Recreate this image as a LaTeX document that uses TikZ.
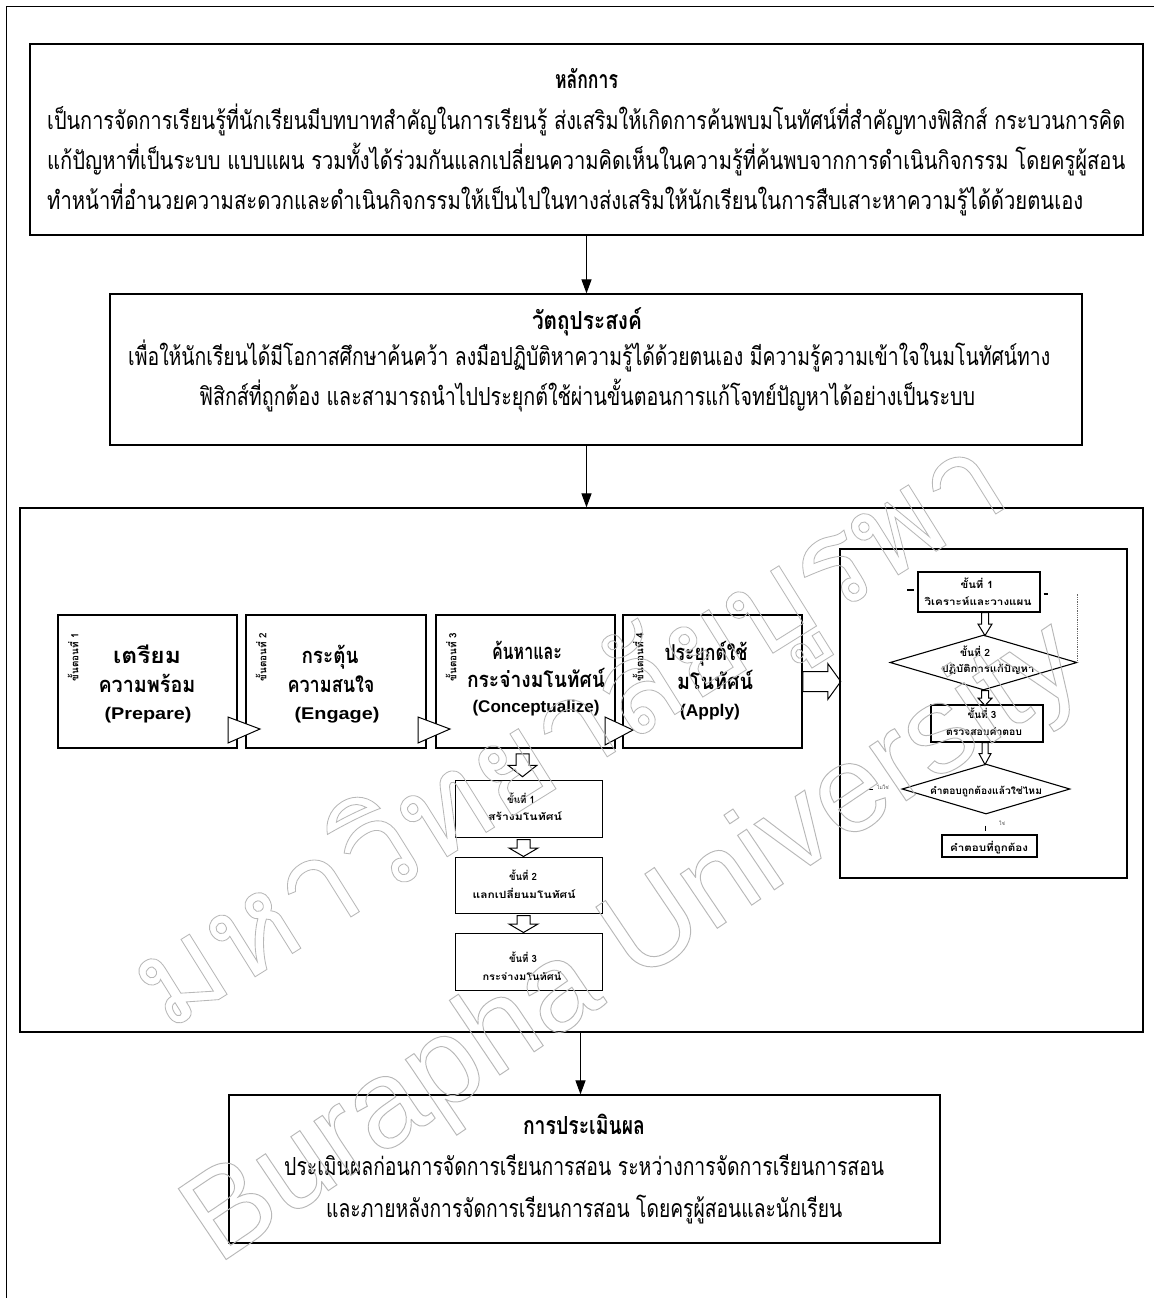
\documentclass[tikz,border=0pt]{standalone}
\usepackage{fontspec}
\setmainfont{Liberation Serif}
\newfontfamily\thai[Script=Thai]{Loma}
\newfontfamily\arialb{Liberation Sans}
\usetikzlibrary{arrows.meta,shapes.geometric,calc}
\newlength\fitlen
\newcommand\fitw[2]{\settowidth\fitlen{#2}\pgfmathsetmacro\fitr{#1/\fitlen}\scalebox{\fitr}[1]{#2}}
\begin{document}
\begin{tikzpicture}[x=1bp,y=-1bp,
  frame/.style={draw, line width=1.2bp, inner sep=0},
  stepbox/.style={draw, line width=1.5bp, inner sep=0, minimum width=179bp, minimum height=133bp},
  subbox/.style={draw, line width=1bp, inner sep=0, minimum width=147bp},
  fbox/.style={draw, line width=1.1bp, inner sep=0},
  body/.style={font=\thai\fontsize{25}{30}\selectfont, inner sep=0},
  ttl/.style={font=\thai\bfseries\fontsize{25}{30}\selectfont, inner sep=0},
  stth/.style={font=\thai\bfseries\fontsize{22}{24}\selectfont, inner sep=0},
  sten/.style={font=\arialb\bfseries\fontsize{17}{20}\selectfont, inner sep=0},
  vlab/.style={font=\thai\bfseries\fontsize{10}{12}\selectfont, inner sep=0, rotate=90},
  small/.style={font=\thai\bfseries\fontsize{10}{12}\selectfont, inner sep=0},
  tiny/.style={font=\thai\fontsize{5}{6}\selectfont, inner sep=0, text=black!70},
  conn/.style={line width=1.1bp, -{Triangle[length=14bp,width=10bp]}},
  blk/.style={draw, fill=white, line width=1bp, line join=miter},
  wmark/.style={text=black!28, inner sep=0},
  pics/dblk/.style args={#1/#2/#3}{code={\path[blk] (-#2,0) -- (-#2,#1*0.5) -- (-#3,#1*0.5) -- (0,#1) -- (#3,#1*0.5) -- (#2,#1*0.5) -- (#2,0) -- cycle;}}
]
\useasboundingbox (0,0) rectangle (1154,1298);
% page frame
\draw[line width=1bp] (1154,6) -- (6,6) -- (6,1298);

% box 1
\node[frame, minimum width=1113bp, minimum height=191bp] (b1) at (586.5,139.5) {};
\node[ttl, anchor=base] (b1t) at (586.5,88) {\fitw{63bp}{หลักการ}};
\node[body, anchor=base west] (b1a) at (47,129) {\fitw{1078bp}{เป็นการจัดการเรียนรู้ที่นักเรียนมีบทบาทสำคัญในการเรียนรู้ ส่งเสริมให้เกิดการค้นพบมโนทัศน์ที่สำคัญทางฟิสิกส์ กระบวนการคิด}};
\node[body, anchor=base west] (b1b) at (47,169) {\fitw{1078bp}{แก้ปัญหาที่เป็นระบบ แบบแผน รวมทั้งได้ร่วมกันแลกเปลี่ยนความคิดเห็นในความรู้ที่ค้นพบจากการดำเนินกิจกรรม โดยครูผู้สอน}};
\node[body, anchor=base west] (b1c) at (47,209) {\fitw{1036bp}{ทำหน้าที่อำนวยความสะดวกและดำเนินกิจกรรมให้เป็นไปในทางส่งเสริมให้นักเรียนในการสืบเสาะหาความรู้ได้ด้วยตนเอง}};

% box 2
\node[frame, minimum width=972bp, minimum height=151bp] (b2) at (596,369.5) {};
\node[ttl, anchor=base] (b2t) at (587,329) {\fitw{110bp}{วัตถุประสงค์}};
\node[body, anchor=base west] (b2a) at (128,365) {\fitw{922bp}{เพื่อให้นักเรียนได้มีโอกาสศึกษาค้นคว้า ลงมือปฏิบัติหาความรู้ได้ด้วยตนเอง มีความรู้ความเข้าใจในมโนทัศน์ทาง}};
\node[body, anchor=base west] (b2b) at (199,405) {\fitw{776bp}{ฟิสิกส์ที่ถูกต้อง และสามารถนำไปประยุกต์ใช้ผ่านขั้นตอนการแก้โจทย์ปัญหาได้อย่างเป็นระบบ}};

% box 3
\node[frame, minimum width=1123bp, minimum height=524bp] (b3) at (581.5,770) {};

% box 4
\node[frame, minimum width=711bp, minimum height=148bp] (b4) at (584.5,1169) {};
\node[ttl, anchor=base] (b4t) at (584,1134) {\fitw{122bp}{การประเมินผล}};
\node[body, anchor=base west] (b4a) at (284,1175) {\fitw{600bp}{ประเมินผลก่อนการจัดการเรียนการสอน ระหว่างการจัดการเรียนการสอน}};
\node[body, anchor=base west] (b4b) at (326,1217) {\fitw{516bp}{และภายหลังการจัดการเรียนการสอน โดยครูผู้สอนและนักเรียน}};

% main connectors
\draw[conn] (b1.south) -- (b1.south |- b2.north);
\draw[conn] (b2.south -| b1.south) -- (b1.south |- b3.north);
\draw[conn] ($(b3.south)+(-1,0)$) -- ($(b3.south |- b4.north)+(-1,0)$);

% step boxes
\node[stepbox] (sA) at (147.5,681.5) {};
\node[stepbox, minimum width=180bp] (sB) at (336,681.5) {};
\node[stepbox] (sC) at (525.5,681.5) {};
\node[stepbox] (sD) at (712.5,681.5) {};

\node[vlab] (vA) at (73,657) {\fitw{48bp}{ขั้นตอนที่ 1}};
\node[vlab] (vB) at (261,657) {\fitw{48bp}{ขั้นตอนที่ 2}};
\node[vlab] (vC) at (451,657) {\fitw{48bp}{ขั้นตอนที่ 3}};
\node[vlab] (vD) at (638,657) {\fitw{48bp}{ขั้นตอนที่ 4}};

\node[stth, anchor=base] (tA1) at (147,663) {\fitw{68bp}{เตรียม}};
\node[stth, anchor=base] (tA2) at (147,692) {\fitw{97bp}{ความพร้อม}};
\node[sten, anchor=base] (tA3) at (148,719) {\fitw{87bp}{(Prepare)}};

\node[stth, anchor=base] (tB1) at (330,663) {\fitw{57bp}{กระตุ้น}};
\node[stth, anchor=base] (tB2) at (331,692) {\fitw{87bp}{ความสนใจ}};
\node[sten, anchor=base] (tB3) at (337,719) {\fitw{85bp}{(Engage)}};

\node[stth, anchor=base] (tC1) at (527,659) {\fitw{70bp}{ค้นหาและ}};
\node[stth, anchor=base] (tC2) at (536,687) {\fitw{138bp}{กระจ่างมโนทัศน์}};
\node[sten, anchor=base] (tC3) at (536,712) {\fitw{127bp}{(Conceptualize)}};

\node[stth, anchor=base] (tD1) at (706,660) {\fitw{83bp}{ประยุกต์ใช้}};
\node[stth, anchor=base] (tD2) at (715,689) {\fitw{76bp}{มโนทัศน์}};
\node[sten, anchor=base] (tD3) at (710,716) {\fitw{60bp}{(Apply)}};

% triangles between step boxes
\path[blk] (228,717) -- (228,743) -- (260,729) -- cycle;
\path[blk] (418,717) -- (418,743) -- (450,729) -- cycle;
\path[blk] (605,717) -- (605,745) -- (633,730) -- cycle;

% block arrow to the right frame
\path[blk] ($(sD.east)+(0,-10)$) -- ++(25,0) -- ++(0,-8) -- ++(13,18) -- ++(-13,18) -- ++(0,-8) -- ++(-25,0) -- cycle;

% sub-steps
\node[subbox, minimum height=57bp] (s1) at (528.5,808.5) {};
\node[subbox, minimum height=56bp] (s2) at (528.5,885) {};
\node[subbox, minimum height=57bp] (s3) at (528.5,961.5) {};
\node[small, anchor=base] (s1a) at (521,803) {\fitw{28bp}{ขั้นที่ 1}};
\node[small, anchor=base] (s1b) at (525,820) {\fitw{74bp}{สร้างมโนทัศน์}};
\node[small, anchor=base] (s2a) at (523,880) {\fitw{28bp}{ขั้นที่ 2}};
\node[small, anchor=base] (s2b) at (524,898) {\fitw{103bp}{แลกเปลี่ยนมโนทัศน์}};
\node[small, anchor=base] (s3a) at (523,962) {\fitw{28bp}{ขั้นที่ 3}};
\node[small, anchor=base] (s3b) at (522,980) {\fitw{79bp}{กระจ่างมโนทัศน์}};

\pic at ($(sC.south)+(-3,5)$) {dblk={23/6.5/14.5}};
\pic at ($(s1.south)+(-5,2)$) {dblk={17/6.5/14.5}};
\pic at ($(s2.south)+(-5,2)$) {dblk={17/6.5/14.5}};

% right flowchart frame
\node[draw, line width=1.1bp, inner sep=0, minimum width=287bp, minimum height=329bp] (rf) at (983.5,713.5) {};
\node[fbox, minimum width=122bp, minimum height=40bp] (f1) at (979,592) {};
\node[fbox, diamond, minimum width=187bp, minimum height=55bp] (f2) at (983.5,662.5) {};
\node[fbox, minimum width=112bp, minimum height=37bp] (f3) at (987,723.5) {};
\node[fbox, diamond, minimum width=168bp, minimum height=50bp] (f4) at (986,789) {};
\node[fbox, minimum width=95bp, minimum height=22bp] (f5) at (989.5,846) {};

\node[small, anchor=base] (f1a) at (977,588) {\fitw{33bp}{ขั้นที่ 1}};
\node[small, anchor=base] (f1b) at (978,605) {\fitw{107bp}{วิเคราะห์และวางแผน}};
\node[small, anchor=base] (f2a) at (975,656) {\fitw{30bp}{ขั้นที่ 2}};
\node[small, anchor=base] (f2b) at (988,672) {\fitw{93bp}{ปฏิบัติการแก้ปัญหา}};
\node[small, anchor=base] (f3a) at (982,718) {\fitw{29bp}{ขั้นที่ 3}};
\node[small, anchor=base] (f3b) at (984,735) {\fitw{76bp}{ตรวจสอบคำตอบ}};
\node[small, anchor=base] (f4a) at (986,794) {\fitw{112bp}{คำตอบถูกต้องแล้วใช่ไหม}};
\node[small, anchor=base] (f5a) at (989,851) {\fitw{78bp}{คำตอบที่ถูกต้อง}};

\pic at ($(f1.south)+(6,0)$) {dblk={23/3.5/7}};
\pic at ($(f2.south)+(1.5,0)$) {dblk={15/3.5/7}};
\pic at ($(f3.south)+(-2,0)$) {dblk={22/3/6}};

% faint remnants in the flowchart
\draw[densely dotted, line width=0.8bp, black!60] (f2.east) -- ++(0,-69);
\draw[line width=1.2bp] ($(f1.west)+(-10,-2)$) -- ++(7,0);
\draw[line width=1.2bp] ($(f1.east)+(3,2)$) -- ++(4,0);
\draw[line width=0.8bp] ($(f4.south)+(-1,11)$) -- ++(0,5);
\node[tiny] (no1) at (883,787) {ไม่ใช่};
\draw[line width=0.8bp] (868,789) -- (873,789);
\node[tiny] (yes1) at (1002,823) {ใช่};

% watermark (outline)
\node[wmark, rotate=32] (wm1) at (572,738) {\resizebox{1000bp}{!}{\special{pdf:literal direct 1 Tr 1 w}\thai\fontsize{150}{150}\selectfont มหาวิทยาลัยบูรพา\special{pdf:literal direct 0 Tr}}};
\node[wmark, rotate=34] (wm2) at (635,945) {\resizebox{1050bp}{!}{\special{pdf:literal direct 1 Tr 1 w}\arialb\fontsize{130}{130}\selectfont Burapha University\special{pdf:literal direct 0 Tr}}};
\end{tikzpicture}
\end{document}
